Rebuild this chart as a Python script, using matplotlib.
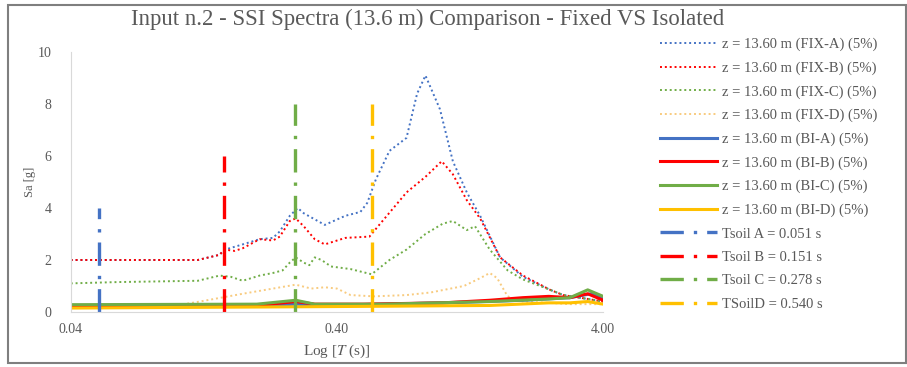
import numpy as np
import matplotlib
matplotlib.use("Agg")
from matplotlib import pyplot as plt
from matplotlib.patches import Rectangle

# spettri FIX (base fissa)
T_fa = [0.04, 0.12, 0.145, 0.151, 0.158, 0.177, 0.205, 0.23, 0.244, 0.266, 0.285, 0.30, 0.36, 0.43, 0.49, 0.52,
        0.56, 0.63, 0.73, 0.80, 0.86, 0.975, 1.09, 1.23, 1.38, 1.64, 2.0, 2.53, 2.83, 3.5, 4.0]
Sa_fa = [2.0, 2.0, 2.2, 2.4, 2.45, 2.6, 2.8, 2.85, 3.1, 3.7, 4.0, 3.8, 3.35, 3.7, 3.85, 4.2,
         5.1, 6.2, 6.7, 8.4, 9.1, 7.8, 5.8, 4.6, 3.7, 2.1, 1.35, 0.85, 0.65, 0.5, 0.4]

T_fb = [0.04, 0.12, 0.145, 0.151, 0.165, 0.177, 0.205, 0.23, 0.244, 0.266, 0.28, 0.30, 0.33, 0.36, 0.43, 0.53,
        0.55, 0.73, 0.86, 0.99, 1.09, 1.23, 1.38, 1.64, 2.0, 2.53, 2.83, 3.5, 4.0]
Sa_fb = [2.0, 2.0, 2.2, 2.4, 2.35, 2.45, 2.8, 2.75, 2.9, 3.5, 3.6, 3.3, 2.8, 2.6, 2.85, 2.9,
         3.1, 4.6, 5.2, 5.8, 5.3, 4.3, 3.6, 2.1, 1.4, 0.85, 0.65, 0.5, 0.4]

T_fc = [0.04, 0.06, 0.12, 0.145, 0.16, 0.177, 0.205, 0.23, 0.25, 0.266, 0.28, 0.30, 0.315, 0.33, 0.35, 0.38,
        0.45, 0.54, 0.63, 0.73, 0.86, 1.0, 1.09, 1.23, 1.32, 1.5, 1.75, 2.0, 2.53, 2.83, 3.5, 4.0]
Sa_fc = [1.1, 1.15, 1.2, 1.4, 1.35, 1.2, 1.4, 1.5, 1.6, 1.9, 2.1, 1.9, 1.8, 2.1, 2.0, 1.75,
         1.65, 1.45, 2.0, 2.4, 3.0, 3.4, 3.5, 3.15, 3.3, 2.4, 1.6, 1.25, 0.85, 0.65, 0.5, 0.4]

T_fd = [0.04, 0.10, 0.122, 0.177, 0.23, 0.28, 0.32, 0.36, 0.40, 0.45, 0.55, 0.73, 0.9, 1.2, 1.38, 1.5,
        1.6, 1.75, 2.0, 2.5, 3.0, 3.5, 4.0]
Sa_fd = [0.2, 0.25, 0.4, 0.7, 0.9, 1.05, 0.9, 0.95, 0.9, 0.65, 0.6, 0.65, 0.75, 1.0, 1.3, 1.5,
         1.3, 0.6, 0.4, 0.35, 0.3, 0.3, 0.3]

# spettri BI (base isolata)
T_ba = [0.04, 0.2, 0.28, 0.35, 0.6, 1.0, 2.0, 3.0, 3.6, 4.0]
Sa_ba = [0.2, 0.22, 0.3, 0.25, 0.3, 0.35, 0.45, 0.55, 0.7, 0.5]
T_bb = [0.04, 0.12, 0.2, 0.28, 0.33, 0.5, 1.0, 1.5, 2.0, 2.5, 3.0, 3.5, 4.0]
Sa_bb = [0.22, 0.25, 0.25, 0.4, 0.3, 0.3, 0.35, 0.45, 0.55, 0.6, 0.55, 0.7, 0.45]
T_bc = [0.04, 0.2, 0.28, 0.33, 0.6, 1.5, 2.5, 3.0, 3.5, 4.0]
Sa_bc = [0.28, 0.3, 0.45, 0.3, 0.3, 0.4, 0.5, 0.55, 0.85, 0.6]
T_bd = [0.04, 0.3, 0.6, 1.5, 2.5, 3.0, 3.5, 4.0]
Sa_bd = [0.15, 0.2, 0.22, 0.25, 0.35, 0.35, 0.4, 0.3]

# periodi del terreno
Tsoil = [0.051, 0.151, 0.278, 0.540]
Tsoil_top = [4, 6, 8, 8]
Tsoil_lab = ['Tsoil A = 0.051 s', 'Tsoil B = 0.151 s', 'Tsoil C = 0.278 s', 'TSoilD = 0.540 s']

fix_lab = ['z = 13.60 m (FIX-A) (5%)', 'z = 13.60 m (FIX-B) (5%)',
           'z = 13.60 m (FIX-C) (5%)', 'z = 13.60 m (FIX-D) (5%)']
bi_lab = ['z = 13.60 m (BI-A) (5%)', 'z = 13.60 m (BI-B) (5%)',
          'z = 13.60 m (BI-C) (5%)', 'z = 13.60 m (BI-D) (5%)']

colors = ['#4472C4', '#FF0000', '#70AD47', '#FFC000']
fix_colors = ['#4472C4', '#FF0000', '#70AD47', '#F8CB7F']


def main():
    plt.rcParams['font.family'] = ['Liberation Serif', 'DejaVu Serif']
    plt.rcParams['mathtext.fontset'] = 'stix'
    fig = plt.figure(figsize=(9.07, 3.67), dpi=100)
    ax = fig.add_axes([0.078, 0.15, 0.587, 0.708])

    fix = [(T_fa, Sa_fa), (T_fb, Sa_fb), (T_fc, Sa_fc), (T_fd, Sa_fd)]
    bi = [(T_ba, Sa_ba), (T_bb, Sa_bb), (T_bc, Sa_bc), (T_bd, Sa_bd)]

    handles = []
    for i in range(4):
        h, = ax.plot(fix[i][0], fix[i][1], color=fix_colors[i], lw=1.4,
                     linestyle=(0, (1, 1.5)), label=fix_lab[i])
        handles.append(h)
    for i in range(4):
        h, = ax.plot(bi[i][0], bi[i][1], color=colors[i], lw=2.2, label=bi_lab[i])
        handles.append(h)
    for i in range(4):
        h, = ax.plot([Tsoil[i], Tsoil[i]], [0, Tsoil_top[i]], color=colors[i], lw=2.4,
                     linestyle=(0, (7, 3, 1, 3)), label=Tsoil_lab[i])
        handles.append(h)

    ax.set_xscale('log')
    ax.set_xlim(0.04, 4.0)
    ax.set_ylim(0, 10)
    ax.set_xticks([0.04, 0.4, 4.0])
    ax.set_xticklabels(['0.04', '0.40', '4.00'])
    ax.minorticks_off()
    ax.set_yticks([0, 2, 4, 6, 8, 10])
    ax.tick_params(length=0, labelsize=10, colors='#595959')
    ax.tick_params(axis='y', pad=14)
    ax.tick_params(axis='x', pad=8)
    for s in ['top', 'right']:
        ax.spines[s].set_visible(False)
    for s in ['left', 'bottom']:
        ax.spines[s].set_color('#D9D9D9')

    ax.set_xlabel('Log [$\\it{T}$ (s)]', fontsize=11, color='#595959', labelpad=5)
    ax.set_ylabel('Sa [g]', fontsize=9, color='#595959', labelpad=1)
    fig.text(0.471, 0.948, 'Input n.2 - SSI Spectra (13.6 m) Comparison - Fixed VS Isolated',
             ha='center', va='center', fontsize=16.4, color='#595959')

    leg = fig.legend(handles=handles, loc='upper left', bbox_to_anchor=(0.728, 0.897),
                     frameon=False, fontsize=10.5, handlelength=3.9, labelspacing=0.70,
                     handletextpad=0.35, borderaxespad=0, borderpad=0)
    for t in leg.get_texts():
        t.set_color('#595959')

    fig.patches.append(Rectangle((0.009, 0.012), 0.99, 0.975, transform=fig.transFigure,
                                 fill=False, edgecolor='#7F7F7F', lw=1.5))

    fig.savefig('out.png', dpi=100)


if __name__ == '__main__':
    main()
